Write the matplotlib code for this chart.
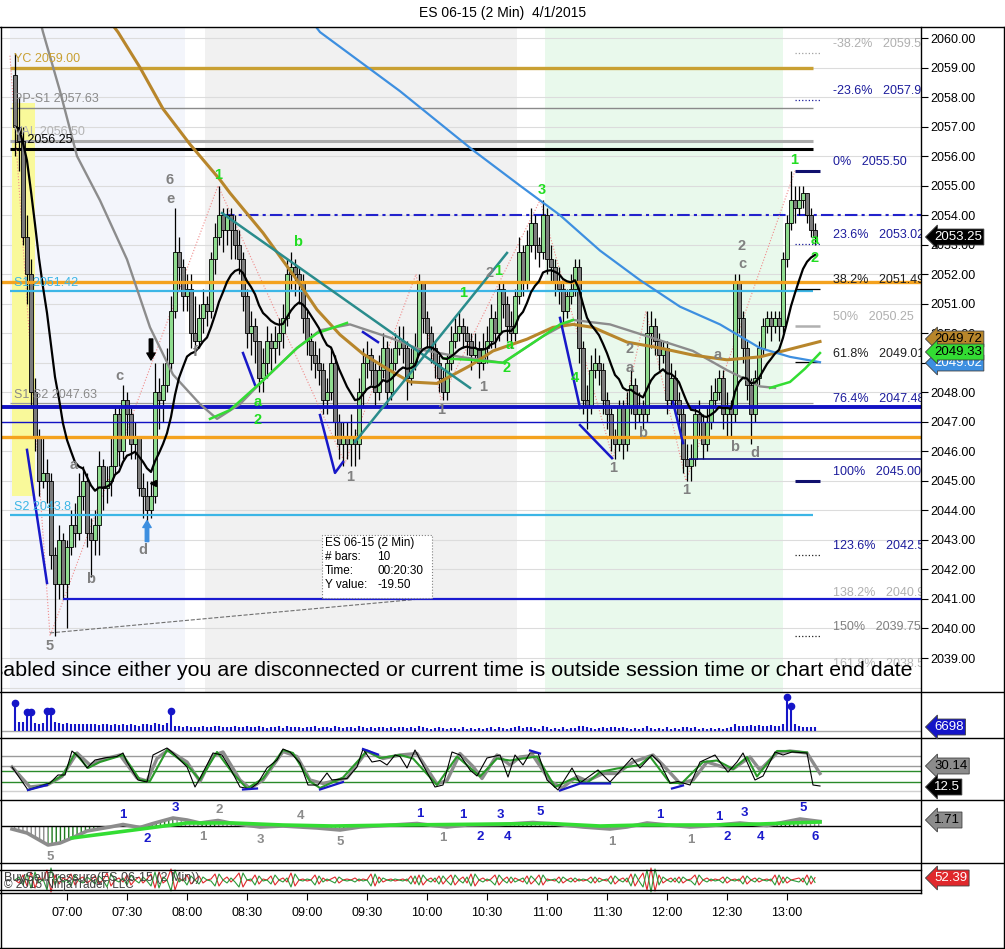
import numpy as np
import pandas as pd
import matplotlib
matplotlib.use("Agg")
import matplotlib.pyplot as plt
from matplotlib.lines import Line2D
from matplotlib.patches import Rectangle

plt.rcParams['font.family'] = ['Liberation Sans', 'DejaVu Sans']
plt.rcParams['hatch.linewidth'] = 1.0

# ---------------- data: ES 06-15, 2 min bars from 06:34 ----------------
first_open = 2058.75
closes = [
    2057.0, 2056.5, 2053.25, 2052.0, 2048.0, 2046.5, 2045.0, 2045.25, 2045.0, 2042.5,
    2041.5, 2043.0, 2041.5, 2042.75, 2043.5, 2043.25, 2044.5, 2045.0, 2043.25, 2043.0,
    2043.5, 2045.5, 2044.75, 2045.0, 2045.5, 2047.25, 2046.0, 2047.75, 2047.25, 2046.25,
    2046.5, 2044.75, 2044.5, 2044.0, 2044.5, 2048.0, 2047.75, 2048.25, 2049.0, 2050.75,
    2052.75, 2052.25, 2051.25, 2051.5, 2050.0, 2049.75, 2050.5, 2051.0, 2050.75, 2052.5,
    2053.25, 2054.0, 2053.5, 2054.0, 2053.5, 2053.0, 2052.5, 2051.25, 2050.0, 2050.25,
    2049.75, 2048.5, 2049.0, 2049.75, 2049.5, 2049.75, 2050.0, 2050.5, 2052.0, 2052.25,
    2052.0, 2051.75, 2050.5, 2049.75, 2049.25, 2049.0, 2048.75, 2047.75, 2048.0, 2049.0,
    2047.0, 2046.25, 2046.5, 2046.25, 2046.5, 2046.25, 2048.0, 2049.0, 2049.25, 2048.75,
    2048.0, 2048.75, 2049.5, 2048.0, 2049.0, 2049.5, 2049.75, 2049.5, 2048.5, 2049.0,
    2049.5, 2051.75, 2050.5, 2050.0, 2049.5, 2049.0, 2048.5, 2048.0, 2049.0, 2049.75,
    2050.0, 2050.25, 2050.0, 2049.75, 2049.25, 2049.5, 2049.0, 2049.5, 2049.75, 2050.5,
    2050.0, 2051.5, 2051.0, 2050.25, 2050.0, 2051.25, 2052.75, 2051.75, 2053.0, 2053.75,
    2053.0, 2052.75, 2054.0, 2052.5, 2052.25, 2051.75, 2051.5, 2050.75, 2051.25, 2051.5,
    2052.25, 2049.5, 2047.75, 2047.5, 2048.75, 2049.0, 2048.75, 2047.75, 2047.25, 2046.5,
    2046.25, 2047.5, 2046.25, 2047.5, 2048.25, 2047.25, 2047.5, 2047.25, 2050.0, 2050.25,
    2049.75, 2049.25, 2049.5, 2047.75, 2048.5, 2047.75, 2047.25, 2045.75, 2045.5, 2045.75,
    2047.25, 2047.0, 2046.25, 2047.0, 2047.75, 2048.0, 2048.5, 2047.25, 2047.5, 2047.25,
    2051.75, 2050.5, 2049.5, 2048.25, 2047.25, 2048.5, 2049.5, 2050.25, 2050.5, 2050.25,
    2050.5, 2050.25, 2052.5, 2053.75, 2054.5, 2054.25, 2054.5, 2054.75, 2054.0, 2053.5,
    2053.25]
highs = [
    2059.5, 2058.0, 2057.0, 2054.0, 2052.5, 2048.5, 2046.75, 2046.5, 2045.75, 2045.25,
    2042.75, 2043.5, 2043.25, 2043.0, 2044.0, 2044.25, 2045.25, 2045.5, 2045.25, 2043.75,
    2044.0, 2046.0, 2045.75, 2045.5, 2046.5, 2047.5, 2047.5, 2048.25, 2048.0, 2047.5,
    2047.0, 2046.5, 2045.25, 2045.0, 2045.0, 2049.0, 2048.5, 2049.0, 2049.5, 2051.25,
    2054.25, 2053.25, 2052.5, 2052.0, 2052.0, 2051.25, 2051.0, 2051.5, 2051.25, 2052.75,
    2053.75, 2055.0, 2054.25, 2054.25, 2054.25, 2054.0, 2053.5, 2052.75, 2051.5, 2050.75,
    2050.5, 2049.75, 2049.5, 2050.25, 2050.0, 2050.25, 2050.5, 2051.0, 2052.5, 2052.75,
    2052.5, 2052.25, 2052.0, 2050.75, 2050.0, 2049.75, 2049.5, 2049.0, 2048.5, 2049.5,
    2049.25, 2047.25, 2047.0, 2047.0, 2047.25, 2046.75, 2048.5, 2049.5, 2049.75, 2049.5,
    2049.0, 2049.25, 2050.0, 2049.75, 2049.5, 2050.0, 2050.25, 2050.25, 2049.75, 2049.5,
    2050.0, 2052.0, 2051.75, 2050.75, 2050.25, 2049.75, 2049.25, 2048.75, 2049.25, 2050.25,
    2050.5, 2050.75, 2050.5, 2050.25, 2050.0, 2050.0, 2049.75, 2050.0, 2050.25, 2051.0,
    2050.75, 2051.75, 2051.75, 2051.25, 2050.75, 2051.5, 2053.25, 2053.0, 2053.5, 2054.25,
    2054.0, 2053.25, 2054.5, 2054.25, 2053.0, 2052.5, 2052.25, 2051.75, 2051.5, 2052.0,
    2052.5, 2052.5, 2049.75, 2048.25, 2049.25, 2049.5, 2049.25, 2049.0, 2048.0, 2047.5,
    2046.75, 2047.75, 2047.75, 2048.0, 2048.75, 2048.5, 2048.0, 2047.75, 2050.75, 2050.75,
    2050.5, 2050.0, 2049.75, 2049.75, 2049.0, 2048.75, 2048.0, 2047.5, 2046.25, 2046.25,
    2047.5, 2047.75, 2047.25, 2047.5, 2048.25, 2048.5, 2048.75, 2048.75, 2048.0, 2047.75,
    2052.0, 2052.0, 2050.75, 2049.75, 2048.5, 2048.75, 2049.75, 2050.5, 2050.75, 2050.75,
    2050.75, 2050.75, 2052.75, 2054.0, 2055.5, 2055.0, 2055.0, 2055.0, 2054.75, 2054.25,
    2053.75]
lows = [
    2056.0, 2055.5, 2053.0, 2051.0, 2047.5, 2046.0, 2044.5, 2044.75, 2044.25, 2042.0,
    2039.75, 2041.0, 2041.0, 2040.0, 2042.5, 2042.75, 2043.0, 2044.0, 2042.75, 2041.75,
    2042.5, 2042.5, 2044.0, 2044.25, 2044.5, 2045.25, 2045.5, 2045.75, 2046.5, 2045.75,
    2045.75, 2044.5, 2043.75, 2043.0, 2043.75, 2044.25, 2046.75, 2047.0, 2048.0, 2048.75,
    2050.5, 2051.5, 2050.75, 2050.75, 2049.5, 2049.25, 2049.5, 2050.0, 2050.25, 2050.5,
    2052.0, 2053.0, 2052.75, 2053.0, 2052.5, 2052.5, 2052.0, 2050.75, 2049.5, 2049.25,
    2049.0, 2048.0, 2048.0, 2048.5, 2048.75, 2049.0, 2049.25, 2049.5, 2050.25, 2051.5,
    2051.25, 2051.0, 2050.0, 2049.25, 2048.75, 2048.5, 2048.25, 2047.25, 2047.25, 2047.75,
    2046.5, 2045.75, 2045.5, 2045.75, 2045.5, 2045.5, 2045.75, 2047.5, 2048.5, 2048.25,
    2047.5, 2047.75, 2048.5, 2047.5, 2047.75, 2048.75, 2049.25, 2049.0, 2047.75, 2048.25,
    2048.75, 2049.25, 2050.0, 2049.5, 2049.0, 2048.5, 2048.0, 2047.75, 2047.75, 2048.75,
    2049.5, 2049.75, 2049.5, 2049.25, 2048.75, 2049.0, 2048.5, 2048.75, 2049.0, 2049.5,
    2049.5, 2049.75, 2050.5, 2049.75, 2049.5, 2049.75, 2051.0, 2051.25, 2051.5, 2052.75,
    2052.5, 2052.25, 2052.5, 2052.0, 2051.75, 2051.25, 2051.0, 2050.25, 2050.5, 2051.0,
    2051.25, 2049.0, 2047.25, 2046.75, 2047.25, 2048.5, 2048.25, 2047.25, 2046.75, 2046.0,
    2045.75, 2046.0, 2045.75, 2046.0, 2047.25, 2046.75, 2047.0, 2046.75, 2047.0, 2049.5,
    2049.25, 2048.75, 2049.0, 2047.25, 2047.5, 2047.25, 2046.75, 2045.25, 2045.0, 2045.0,
    2045.5, 2046.5, 2045.75, 2046.0, 2046.75, 2047.5, 2047.75, 2046.75, 2046.5, 2046.5,
    2047.0, 2050.0, 2049.0, 2047.75, 2046.25, 2047.0, 2048.25, 2049.25, 2050.0, 2049.75,
    2050.0, 2049.75, 2050.0, 2052.25, 2053.5, 2053.75, 2054.0, 2054.25, 2053.75, 2053.25,
    2053.0]
volumes = [
    43000, 15000, 15000, 27000, 27000, 13000, 12000, 13000, 30000, 30000,
    15000, 14000, 12000, 13000, 11000, 12000, 11000, 12000, 11000, 12000,
    11000, 10000, 12000, 11000, 10000, 11000, 10000, 12000, 10000, 11000,
    10000, 9000, 11000, 12000, 10000, 13000, 11000, 10000, 14000, 30000,
    9000, 8000, 7000, 8000, 6000, 7000, 6000, 8000, 6000, 7000,
    8000, 9000, 6000, 7000, 6000, 8000, 6000, 7000, 9000, 6000,
    7000, 8000, 6000, 5000, 7000, 6000, 8000, 5000, 9000, 6000,
    7000, 6000, 5000, 7000, 6000, 8000, 5000, 6000, 7000, 5000,
    9000, 6000, 5000, 7000, 6000, 5000, 8000, 7000, 5000, 6000,
    5000, 6000, 7000, 5000, 6000, 5000, 7000, 6000, 5000, 6000,
    5000, 9000, 6000, 5000, 4000, 5000, 6000, 5000, 4000, 5000,
    5000, 4000, 6000, 4000, 5000, 4000, 5000, 4000, 5000, 6000,
    4000, 7000, 5000, 4000, 5000, 6000, 8000, 5000, 6000, 7000,
    5000, 4000, 8000, 6000, 4000, 5000, 4000, 6000, 4000, 5000,
    5000, 8000, 9000, 6000, 5000, 4000, 5000, 6000, 5000, 6000,
    7000, 5000, 6000, 5000, 4000, 5000, 4000, 5000, 8000, 5000,
    4000, 5000, 4000, 6000, 4000, 5000, 4000, 7000, 6000, 5000,
    6000, 4000, 5000, 4000, 5000, 4000, 5000, 4000, 5000, 6000,
    11000, 9000, 8000, 9000, 10000, 9000, 10000, 8000, 9000, 10000,
    8000, 9000, 11000, 53000, 38500, 12000, 9000, 7000, 6000, 7000,
    6698]
buy_pressure = [
    50, 47, 55, 44, 58, 42, 53, 49, 60, 38, 55, 46, 52, 50, 56, 45, 51, 53, 47, 50,
    54, 46, 50, 57, 44, 50, 52, 48, 55, 45, 50, 53, 47, 51, 56, 42, 58, 47, 50, 61,
    40, 52, 49, 55, 46, 50, 54, 47, 50, 51, 56, 44, 50, 53, 48, 52, 57, 43, 50, 49,
    55, 46, 51, 50, 54, 45, 50, 52, 48, 57, 44, 50, 51, 49, 50, 55, 46, 52, 49, 51,
    53, 47, 50, 51, 50, 52, 49, 51, 50, 56, 44, 53, 48, 50, 51, 49, 50, 51, 49, 54,
    46, 55, 45, 50, 52, 48, 54, 46, 51, 55, 45, 50, 53, 47, 56, 44, 50, 52, 49, 51,
    55, 45, 50, 53, 47, 52, 50, 48, 54, 46, 50, 55, 45, 51, 50, 49, 53, 47, 50, 52,
    48, 51, 49, 50, 53, 47, 52, 50, 49, 54, 46, 50, 52, 48, 56, 44, 51, 57, 40, 62,
    39, 55, 47, 50, 52, 48, 53, 47, 50, 51, 55, 45, 50, 52, 49, 51, 50, 53, 47, 50,
    51, 49, 54, 46, 50, 52, 48, 50, 51, 49, 55, 45, 53, 47, 50, 51, 52, 48, 55, 46,
    52.39]

# long moving averages (minutes of day, price)
gold_t = [441, 445.5, 456.5, 468, 481.5, 496.5, 501.5, 518, 535, 545, 556.5, 568, 580, 591.5,
          605, 621.5, 633, 650, 663, 673, 683, 700, 716.5, 733, 750, 766.5, 778, 796.5]
gold_p = [2060.6, 2060.2, 2059.0, 2057.6, 2056.4, 2055.2, 2054.75, 2053.4, 2051.8, 2050.8, 2049.95,
          2049.3, 2048.8, 2048.35, 2048.3, 2048.9, 2049.4, 2049.8, 2050.2, 2050.3, 2050.2, 2049.7,
          2049.5, 2049.26, 2049.1, 2049.2, 2049.4, 2049.72]
blue_t = [542, 546.5, 586.5, 623, 646.5, 666.5, 686.5, 706.5, 726.5, 746.5, 766.5, 781.5, 796.5]
blue_p = [2060.6, 2060.2, 2058.2, 2056.2, 2055.0, 2054.0, 2052.8, 2051.8, 2050.9, 2050.3, 2049.5,
          2049.2, 2049.02]
gray_t = [406.5, 408, 416.5, 425, 436.5, 450, 461.5, 473, 486.5, 495, 506.5, 518, 535, 546.5, 561.5,
          581.5, 596.5, 616.5, 638, 658, 673, 691.5, 710, 733, 750, 766.5, 774]
gray_p = [2060.6, 2060.2, 2058.2, 2056.0, 2054.5, 2052.5, 2050.2, 2048.6, 2047.6, 2047.1, 2047.6,
          2048.4, 2049.5, 2050.1, 2050.3, 2049.85, 2049.45, 2049.2, 2049.0, 2049.9, 2050.45, 2050.3,
          2049.9, 2049.4, 2048.75, 2048.2, 2048.15]
green_a_t = [491.5, 501.5, 518, 535, 545, 560]
green_a_p = [2047.1, 2047.4, 2048.4, 2049.5, 2050.0, 2050.35]
green_b_t = [608, 621.5, 638, 658, 666.5, 673]
green_b_p = [2049.15, 2049.1, 2049.0, 2049.9, 2050.3, 2050.45]
green_c_t = [771.5, 781.5, 789, 796.5]
green_c_p = [2048.15, 2048.35, 2048.8, 2049.33]

# swing zigzag
zz_t = [391.5, 411.5, 495.5, 559, 594.5, 607, 656.5, 693, 709.5, 729.5, 784]
zz_p = [2059.4, 2039.75, 2055.0, 2045.6, 2052.0, 2047.75, 2054.5, 2045.75, 2050.75, 2045.0, 2055.5]

# pivots
yc, pp_s1, val_hi, val_lo = 2059.00, 2057.63, 2056.50, 2056.25
s1, s1s2, s2 = 2051.42, 2047.63, 2043.84
fib_pct = ['-38.2%', '-23.6%', '0%', '23.6%', '38.2%', '50%', '61.8%', '76.4%', '100%',
           '123.6%', '138.2%', '150%', '161.8%']
fib_txt = ['2059.5', '2057.9', '2055.50', '2053.02', '2051.49', '2050.25', '2049.01', '2047.48',
           '2045.00', '2042.5', '2040.9', '2039.75', '2038.5']
fib_val = [2059.5, 2057.9, 2055.50, 2053.02, 2051.49, 2050.25, 2049.01, 2047.48, 2045.00,
           2042.5, 2040.9, 2039.75, 2038.5]
fib_col = ['#b0b0b0', '#1c1c9c', '#1c1c9c', '#1c1c9c', '#202020', '#b0b0b0', '#202020',
           '#1c1c9c', '#1c1c9c', '#1c1c9c', '#b0b0b0', '#808080', '#b8b8b8']

# wave labels on price panel
wave_txt = ['6', 'e', '1', 'b', 'c', 'a', 'b', 'd', '5', 'f', 'a', '2', '1', '1', '1', '1', '2', '1',
            'a', '2', '3', '4', '1', '2', 'a', 'b', '1', 'a', 'b', 'd', '2', 'c', '1', 'a', '2']
wave_t = [471.5, 471.5, 495.5, 535.5, 446, 423.5, 432, 458, 411.5, 484, 515.5, 515.5, 561.5, 607,
          628, 618, 631.5, 635.5, 641.5, 640, 657.5, 674, 693, 701.5, 701.5, 708, 729.5, 745.5,
          754, 764, 757.5, 757.5, 783.5, 794, 794]
wave_p = [2055.19, 2054.55, 2055.36, 2053.09, 2048.55, 2045.54, 2041.68, 2042.66, 2039.41, 2049.36,
          2047.67, 2047.06, 2045.13, 2047.40, 2048.18, 2051.36, 2052.04, 2052.11, 2049.60, 2048.82,
          2054.85, 2048.48, 2045.44, 2049.47, 2048.82, 2046.62, 2044.69, 2049.26, 2046.15, 2045.94,
          2052.95, 2052.35, 2055.87, 2053.16, 2052.55]
wave_kind = ['k', 'k', 'g', 'g', 'k', 'k', 'k', 'k', 'k', 'k', 'g', 'g', 'k', 'k', 'k', 'g', 'k', 'g',
             'g', 'g', 'g', 'g', 'k', 'k', 'k', 'k', 'k', 'k', 'k', 'k', 'k', 'k', 'g', 'g', 'g']

# oscillator (stochastics) knots
st_black_t = [392.5, 400.5, 411.5, 415.5, 419, 422.5, 426.5, 430, 434, 440, 445, 448, 450, 455.5, 460,
              463, 470, 473, 480, 484, 486.5, 490.5, 493, 497.5, 501.5, 506.5, 511.5, 515.5, 520, 525,
              528, 531.5, 536.5, 540.5, 545.5, 550, 552.5, 560, 565, 568, 572.5, 576.5, 580, 584,
              586.5, 590, 594, 598, 604, 608, 612.5, 616.5, 621.5, 625, 630, 636.5, 640.5, 644, 648,
              651.5, 655.5, 660, 665.5, 672.5, 676.5, 685.5, 691.5, 702.5, 706.5, 712.5, 716.5,
              721.5, 725.5, 731.5, 736.5, 744, 746.5, 750.5, 755, 758, 764, 768, 774, 778, 782.5,
              790, 793, 796.5]
st_black_v = [31.5, 8.5, 15.5, 23.5, 23.5, 47.5, 40.5, 30.5, 38.5, 41, 42, 45.5, 36.5, 18.5, 16.5,
              43.5, 50.5, 45.5, 31.5, 11.5, 20.5, 35.5, 45.5, 43.5, 30.5, 11.5, 9.5, 15.5, 30.5, 38.5,
              49.5, 46.5, 35.5, 13.5, 13.5, 25.5, 18.5, 20, 31.5, 49.5, 36.5, 38, 33.5, 43.5,
              42, 30.5, 48.5, 33.5, 11.5, 13.5, 46.5, 43.5, 28.5, 22.5, 40.5, 43.5, 21.5, 43.5, 33.5,
              45.5, 45.5, 18.5, 8.5, 30.5, 15.5, 28.5, 16.5, 40.5, 30.5, 43.5, 35.5,
              15.5, 17, 13.5, 36.5, 43.5, 36.5, 26.5, 36.5, 45.5, 18.5, 22.5, 46.5, 43.5, 46.5,
              45.5, 13.5, 12.5]
st_gray_t = [392.5, 401.5, 410, 417.5, 425, 431.5, 436.5, 446.5, 455, 460, 465, 470.5, 480, 486.5,
             493, 498, 506.5, 511.5, 518, 528, 535, 541.5, 548, 560, 570, 578, 586.5, 595, 605, 610,
             616.5, 623, 627.5, 635, 641.5, 646.5, 653, 661.5, 667.5, 675, 680, 688, 695, 703, 713,
             718, 726.5, 733, 740, 748, 753, 761.5, 766.5, 775, 781.5, 790, 796.5]
st_gray_v = [31.5, 11.5, 13.5, 22, 45.5, 33.5, 38.5, 43.5, 20.5, 17.5, 40, 48.5, 36.5, 17,
             43, 46.5, 18.5, 10, 18.5, 47, 42, 18.5, 15, 20.5, 47.5, 40, 43.5, 45, 14.5, 18,
             45, 32, 20, 43.5, 33.5, 41.5, 43, 17.5, 10.5, 22, 17.5, 25, 25, 36.5, 43.5,
             33.5, 15, 18.5, 36.5, 31.5, 29.5, 41.5, 28.5, 45.5, 47.5, 45.5, 25]
st_green_t = [400.5, 411.5, 418, 424, 430.5, 436.5, 448, 456.5, 461.5, 470, 480, 486.5, 495, 503,
              510, 518, 528, 533, 541.5, 546.5, 558, 570, 576.5, 586.5, 593, 605, 615, 626.5, 635,
              641.5, 648, 655, 664, 673, 680, 686.5, 695, 706.5, 711.5, 721.5, 727.5, 738, 745, 753,
              760, 765, 775, 781.5, 790]
st_green_v = [8.5, 15.5, 23.5, 45.5, 30.5, 36.5, 43.5, 18.5, 17.5, 48.5, 33.5, 18.5, 46.5, 25,
              10, 20, 48.5, 45.5, 17, 10.5, 21, 47.5, 40.5, 43.5, 40, 13.5, 42, 22, 40,
              38, 40, 42, 11.5, 20, 15.5, 26.5, 30, 33.5, 42, 15.5, 15.5, 36.5, 38, 29.5,
              41.5, 22, 47.5, 47.5, 46]
st_levels = [43, 33, 28, 17, 8]

# trend oscillator knots
tr_gray_t = [392.5, 400, 410.5, 416.5, 422.5, 430, 441.5, 448, 456.5, 463, 473, 480, 486.5, 495.5,
             503, 516.5, 528, 545, 556.5, 566.5, 583, 595, 603, 610, 620, 636.5, 653, 663, 678,
             691.5, 700, 710, 723, 731.5, 740, 756.5, 770, 786.5, 796.5]
tr_gray_v = [-3, -7, -19, -17, -12, -5, -1, 1.5, -1.5, 2.5, 8, 6, 3, 5.5, 2.5, -1, 0, -2, -4, -1, 1,
             2.5, 0.5, -1, 1, 1.5, 3.5, 2, -1, -3, -1, 3, 0.5, -1, 0, 3, 0.5, 7, 4.5]
tr_green_t = [422.5, 451.5, 480, 503, 528, 553, 586.5, 611.5, 636.5, 661.5, 686.5, 708, 740, 766.5,
              781.5, 796.5]
tr_green_v = [-12, -4.5, 3, 3, 1, 0, 1, 1.5, 2, 2.5, 0, 1, 1, 2, 3, 4]
tr_txt = ['5', '1', '2', '3', '2', '1', '3', '4', '5', '1', '1', '1', '2', '3', '4', '5', '1', '1',
          '1', '1', '2', '3', '4', '5', '6']
tr_t = [411.5, 448, 460, 474, 496, 488, 516.5, 536.5, 556.5, 596.5, 608, 618, 626.5, 636.5, 640,
        656.5, 692.5, 716.5, 732, 746, 750, 758.5, 766.5, 788, 794]
tr_v = [-31, 11, -13, 18, 16, -11, -14, 10, -16, 12, -12, 11, -11, 11, -11, 14, -16, 11, -14, 9,
        -11, 13, -11, 18, -11]
tr_blue = [0, 1, 1, 1, 0, 0, 0, 0, 0, 1, 0, 1, 1, 1, 1, 1, 0, 1, 0, 1, 1, 1, 1, 1, 1]

time_ticks = ['07:00', '07:30', '08:00', '08:30', '09:00', '09:30', '10:00', '10:30', '11:00',
              '11:30', '12:00', '12:30', '13:00']

# ---------------- figure ----------------
W, H = 1005, 949
fig = plt.figure(figsize=(W / 100, H / 100), dpi=100)
fig.patch.set_facecolor('white')


def panel(y0, y1, ylim):
    a = fig.add_axes([1 / W, 1 - y1 / H, 920 / W, (y1 - y0) / H])
    a.set_xlim(387, 847)
    a.set_ylim(*ylim)
    for s in a.spines.values():
        s.set_visible(False)
    a.set_xticks([])
    a.set_yticks([])
    return a


bar_t = 394 + 2 * np.arange(len(closes))
c = np.array(closes)
o = np.r_[first_open, c[:-1]]
hi = np.array(highs)
lo = np.array(lows)

# ---- price panel ----
ax = panel(27, 692, (2037.849, 2060.373))
ax.axvspan(391.5, 479, color='#f3f5fb', zorder=0, lw=0)
ax.axvspan(489, 645, color='#f1f1f1', zorder=0, lw=0)
ax.axvspan(659, 778, color='#e9f9ec', zorder=0, lw=0)
for p in range(2038, 2061):
    ax.axhline(p, color='#dcdcdc', lw=0.8, zorder=0.5)
ax.add_patch(Rectangle((392.5, 2044.5), 11.5, 13.3, color='#f9f99a', zorder=0.8, lw=0))

# pivot / level lines
ax.hlines(yc, 391.5, 793, color='#c9a032', lw=2.4, zorder=2)
ax.hlines(pp_s1, 391.5, 793, color='#8a8a8a', lw=1.0, zorder=2)
ax.hlines(val_hi, 391.5, 793, color='#ababab', lw=2.2, zorder=2)
ax.hlines(val_lo, 391.5, 793, color='black', lw=2.2, zorder=2)
ax.hlines(2054.0, 497.5, 847, color='#2222cc', lw=1.5, ls=(0, (6, 2, 1.5, 2)), zorder=2)
ax.hlines(2051.75, 387, 847, color='#f4a21e', lw=2.4, zorder=4)
ax.hlines(s1, 391.5, 793, color='#3cb6e6', lw=1.6, zorder=4)
ax.hlines(s1s2, 391.5, 793, color='#9a9a9a', lw=0.9, zorder=2)
ax.hlines(2047.5, 387, 847, color='#1212c4', lw=2.8, zorder=4)
ax.hlines(2047.0, 387, 847, color='#1212c4', lw=1.0, zorder=4)
ax.hlines(2046.5, 387, 847, color='#f4a21e', lw=2.4, zorder=4)
ax.hlines(2045.75, 731, 847, color='#10108c', lw=1.2, zorder=4)
ax.hlines(s2, 391.5, 793, color='#3cb6e6', lw=1.6, zorder=4)
ax.hlines(2041.0, 418, 847, color='#1a1ad0', lw=1.6, zorder=4)

lab_kw = dict(fontsize=9, va='center', ha='left', zorder=6)
ax.text(393.5, 2059.29, 'YC 2059.00', color='#c9a032', **lab_kw)
ax.text(393.5, 2057.93, 'PP-S1 2057.63', color='#8a8a8a', **lab_kw)
ax.text(393.5, 2056.82, 'VAL 2056.50', color='#b4b4b4', **lab_kw)
ax.text(393.5, 2056.55, 'L  2056.25', color='black', **lab_kw)
ax.text(393.5, 2051.70, 'S1 2051.42', color='#3cb6e6', **lab_kw)
ax.text(393.5, 2047.91, 'S1 S2 2047.63', color='#8a8a8a', **lab_kw)
ax.text(393.5, 2044.11, 'S2 2043.8', color='#3cb6e6', **lab_kw)

# fib levels
for pct, txt, v, col in zip(fib_pct, fib_txt, fib_val, fib_col):
    ax.text(803, v + 0.3, f'{pct}   {txt}', color=col, fontsize=9, va='center', ha='left',
            clip_on=True, zorder=6)
for v, col in [(2059.5, '#a0a0a0'), (2057.9, '#1c1c9c'), (2053.02, '#1c1c9c'),
               (2042.5, '#202020'), (2039.75, '#202020')]:
    ax.hlines(v, 784, 796.5, color=col, lw=0.9, ls=':', zorder=4)
ax.hlines(2055.5, 784, 796.5, color='#10106e', lw=2.2, zorder=4)
ax.hlines(2045.0, 784, 796.5, color='#10106e', lw=2.2, zorder=4)
ax.hlines(2051.49, 784, 796.5, color='black', lw=0.9, zorder=4)
ax.hlines(2050.25, 784, 796.5, color='#b0b0b0', lw=1.8, zorder=4)
ax.hlines(2049.01, 784, 796.5, color='black', lw=0.9, zorder=4)

# zigzag and measure line
ax.plot(zz_t, zz_p, color='#f08a8a', lw=0.8, ls=':', zorder=2.5)
ax.plot([411.5, 601.5], [2039.85, 2041.03], color='#707070', lw=0.8, ls='--', zorder=2.5)

# candles
ax.vlines(bar_t, lo, hi, color='black', lw=0.9, zorder=3)
up = c >= o
body_b = np.minimum(o, c)
body_h = np.maximum(np.abs(c - o), 0.06)
ax.bar(bar_t[up], body_h[up], bottom=body_b[up], width=2.3, color='#8fdc8f',
       edgecolor='black', lw=0.6, zorder=3.5)
ax.bar(bar_t[~up], body_h[~up], bottom=body_b[~up], width=2.3, color='#7c7c7c',
       edgecolor='black', lw=0.6, zorder=3.5)

# moving averages
ema = pd.Series(closes).ewm(span=14, adjust=False).mean()
ax.plot(gray_t, gray_p, color='#8c8c8c', lw=1.7, zorder=5)
ax.plot(gold_t, gold_p, color='#b8862b', lw=2.2, zorder=5)
ax.plot(blue_t, blue_p, color='#3d8fe0', lw=1.6, zorder=5)
for gt, gp in [(green_a_t, green_a_p), (green_b_t, green_b_p), (green_c_t, green_c_p)]:
    ax.plot(gt, gp, color='#33dd33', lw=1.8, zorder=5.1)
ax.plot(bar_t, ema, color='black', lw=1.6, zorder=5.2)

# trend lines
ax.plot([497.5, 621.5], [2054.07, 2048.15], color='#2a8c8c', lw=1.8, zorder=5)
ax.plot([564, 640], [2046.32, 2052.72], color='#2a8c8c', lw=1.8, zorder=5)
for seg in [([400, 410], [2046.05, 2041.54]), ([508, 514], [2049.33, 2048.25]),
            ([546.5, 554, 558], [2047.23, 2045.27, 2045.64]), ([568, 575.5], [2050.04, 2049.70]),
            ([666.5, 676.5], [2050.52, 2047.47]), ([676.5, 692.5], [2046.89, 2045.77]),
            ([723, 728], [2047.67, 2046.28])]:
    ax.plot(seg[0], seg[1], color='#1818c8', lw=1.8, zorder=5)

for s, t, p, k in zip(wave_txt, wave_t, wave_p, wave_kind):
    ax.text(t, p, s, color='#22dd22' if k == 'g' else '#808080', fontsize=10.5,
            fontweight='bold', ha='center', va='center', zorder=7)
ax.annotate('', xy=(462, 2049.0), xytext=(462, 2049.9),
            arrowprops=dict(arrowstyle='simple,head_width=0.6,head_length=0.5,tail_width=0.25',
                            color='black'), zorder=7)
ax.annotate('', xy=(460, 2043.75), xytext=(460, 2042.85),
            arrowprops=dict(arrowstyle='simple,head_width=0.6,head_length=0.5,tail_width=0.25',
                            color='#3d8fe0'), zorder=7)
ax.plot([463], [2044.93], marker='<', ms=5, color='black', zorder=7)

ax.text(842.5, 2038.59, 'Chart trading is disabled since either you are disconnected or current '
        'time is outside session time or chart end date', fontsize=15.4, ha='right',
        va='center', color='black', clip_on=True, zorder=8)

ax.yaxis.tick_right()
ax.set_yticks(np.arange(2039, 2061))
ax.set_yticklabels([f'{v:.2f}' for v in range(2039, 2061)])
ax.tick_params(axis='y', direction='out', length=5, width=0.8, labelsize=9, pad=2,
               right=True, left=False)

# ---- volume ----
axv = panel(692, 738, (-11725, 65325))
vol = np.array(volumes)
axv.axhline(0, color='#a8a8a8', lw=1.0)
axv.vlines(bar_t, 0, vol, color='#1515c8', lw=1.5)
big = vol > 20000
axv.plot(bar_t[big], vol[big] + 4000, 'o', ms=4.5, color='#1515c8')

# ---- stochastics ----
axs = panel(738, 800, (-1.5, 60.5))
for lv, col in zip(st_levels, ['#9a9a9a', '#9a9a9a', '#2a8a2a', '#2a8a2a', '#d0d0d0']):
    axs.axhline(lv, color=col, lw=1.0)
axs.plot(st_gray_t, st_gray_v, color='#8c8c8c', lw=2.4)
axs.plot(st_green_t, st_green_v, color='#2a9a2a', lw=1.5)
axs.plot(st_black_t, st_black_v, color='black', lw=0.8)
for seg in [([400.5, 410], [8.5, 13.5]), ([508, 515], [9, 10]), ([546.5, 558], [9, 16.5]),
            ([568, 575.5], [49.5, 44]), ([651.5, 656.5], [48, 45]),
            ([666.5, 676.5, 691.5], [8, 15, 15]), ([722.5, 728], [10, 13])]:
    axs.plot(seg[0], seg[1], color='#1818c8', lw=1.6)

# ---- trend oscillator ----
axt = panel(800, 863, (-37, 26))
gt = np.array(tr_gray_t)
gv = np.array(tr_gray_v)
for i in range(len(gt) - 1):
    col = '#1e7a1e' if gv[i + 1] > gv[i] else '#8c8c8c'
    axt.fill_between(gt[i:i + 2], gv[i:i + 2], 0, facecolor='none', edgecolor=col,
                     hatch='||||', lw=0)
axt.axhline(0, color='black', lw=1.0)
axt.plot(gt, gv, color='#8c8c8c', lw=2.6)
axt.plot(tr_green_t, tr_green_v, color='#33dd33', lw=2.6)
for s, t, v, b in zip(tr_txt, tr_t, tr_v, tr_blue):
    axt.text(t, v, s, color='#1a1acc' if b else '#8c8c8c', fontsize=9.5, fontweight='bold',
             ha='center', va='center')

# ---- buy/sell pressure ----
axp = panel(863, 893, (37, 67))
bp = np.array(buy_pressure, dtype=float)
axp.plot(bar_t, bp, color='#e0282c', lw=0.8)
axp.plot(bar_t, 100 - bp, color='#2a9a3a', lw=0.8)
axp.set_xticks(np.arange(420, 781, 30))
axp.set_xticklabels(time_ticks)
axp.tick_params(axis='x', direction='out', length=5, width=0.8, labelsize=9, pad=5, bottom=True)
fig.text(4 / W, 1 - 878 / H, 'BuySellPressure(ES 06-15 (2 Min))', fontsize=9, color='#404040',
         va='center')
fig.text(4 / W, 1 - 885 / H, '\u00a9 2015 NinjaTrader, LLC', fontsize=8.5, color='#404040',
         va='center')


# ---- frame lines ----
def hline_px(y, x0, x1, lw=1.0):
    fig.add_artist(Line2D([x0 / W, x1 / W], [1 - y / H, 1 - y / H], color='black', lw=lw,
                          transform=fig.transFigure))


def vline_px(x, y0, y1, lw=1.0):
    fig.add_artist(Line2D([x / W, x / W], [1 - y0 / H, 1 - y1 / H], color='black', lw=lw,
                          transform=fig.transFigure))


for y in [27, 692, 738, 800, 863]:
    hline_px(y, 0, 1004)
hline_px(947.5, 0, 1004)
hline_px(870, 0, 921)
hline_px(890, 0, 921)
hline_px(893, 0, 921)
vline_px(0.5, 27, 948)
vline_px(1003.5, 27, 948)
vline_px(921, 27, 893)


# ---- right tags ----
def tag(y, text, bg, fg):
    fig.text(934 / W, 1 - y / H, text, fontsize=9.5, color=fg, ha='left', va='center',
             bbox=dict(boxstyle='larrow,pad=0.15', fc=bg, ec='#404040', lw=0.6))


tag(237, '2053.25', 'black', 'white')
tag(363, '2049.02', '#3d8fe0', 'white')
tag(339, '2049.72', '#b8862b', 'black')
tag(352, '2049.33', '#33dd33', 'black')
tag(727, '6698', '#1515c8', 'white')
tag(766, '30.14', '#8c8c8c', 'black')
tag(787, '12.5', 'black', 'white')
tag(820, '1.71', '#8c8c8c', 'black')
tag(878, '52.39', '#e0282c', 'white')

# ---- info box ----
fig.add_artist(Rectangle((322 / W, 1 - 598 / H), 110 / W, 63 / H, transform=fig.transFigure,
                         fc='white', ec='#808080', lw=0.8, ls=':', zorder=9))
info_rows = [('ES 06-15 (2 Min)', ''), ('# bars:', '10'), ('Time:', '00:20:30'),
             ('Y value:', '-19.50')]
for k, (a, b) in enumerate(info_rows):
    yy = 1 - (543 + 14 * k) / H
    fig.text(325 / W, yy, a, fontsize=8.5, va='center', zorder=10)
    fig.text(377 / W, yy, b, fontsize=8.5, va='center', zorder=10)

fig.text(0.5, 1 - 13 / H, 'ES 06-15 (2 Min)  4/1/2015', ha='center', va='center', fontsize=10)

fig.savefig('out.png', dpi=100)
